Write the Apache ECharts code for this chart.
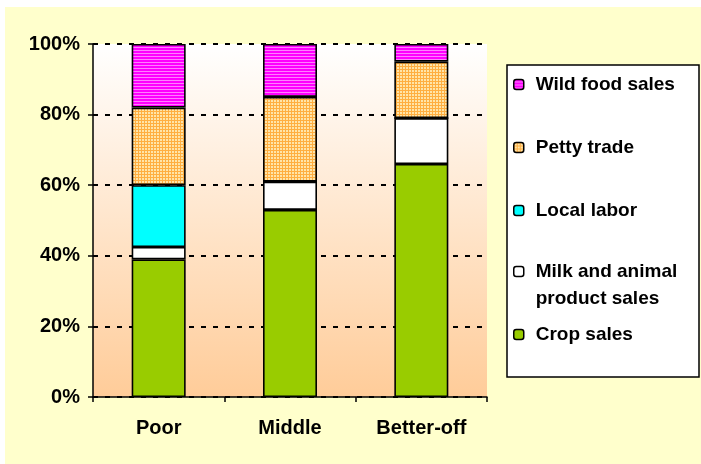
<!DOCTYPE html>
<html>
<head>
<meta charset="utf-8">
<script src="https://cdn.jsdelivr.net/npm/echarts@6/dist/echarts.min.js"></script>
<style>
  html, body { margin: 0; padding: 0; background: #fff; }
  #chart { width: 701px; height: 464px; }
</style>
</head>
<body>
<div id="chart"></div>
<script>
// 类别与各收入来源占比 (%)
const categories = ['Poor', 'Middle', 'Better-off']
const cropSales = [39, 53, 66]
const milkSales = [3.5, 8, 13]
const localLabor = [17.5, 0, 0]
const pettyTrade = [22, 24, 16]
const wildFood = [18, 15, 5]
const yTicks = [0, 20, 40, 60, 80, 100]

// 小图案: 横条纹 / 网格
function makePattern(w, h, bg, fg, draw) {
  const c = document.createElement('canvas')
  c.width = w
  c.height = h
  const ctx = c.getContext('2d')
  ctx.fillStyle = bg
  ctx.fillRect(0, 0, w, h)
  ctx.fillStyle = fg
  draw(ctx)
  return { image: c, repeat: 'repeat' }
}
const wildPattern = makePattern(4, 3, '#FF00FF', '#FF80FF', (ctx) => {
  ctx.fillRect(0, 2, 4, 1)
})
const pettyPattern = makePattern(3, 3, '#FFE4A8', '#FFAE40', (ctx) => {
  ctx.fillRect(0, 0, 3, 1)
  ctx.fillRect(0, 0, 1, 3)
})

const font = '"Liberation Sans", Arial, sans-serif'
const border = { borderColor: '#000', borderWidth: 1.6 }

function barSeries(name, data, color) {
  return {
    name: name,
    type: 'bar',
    stack: 'total',
    barWidth: 54,
    data: data,
    itemStyle: Object.assign({ color: color }, border),
  }
}

// 图例: 每项单独定位
function legendItem(name, top, formatter) {
  return {
    data: [name],
    left: 513,
    top: top,
    padding: 0,
    itemWidth: 10,
    itemHeight: 10,
    itemGap: 0,
    formatter: formatter || '{name}',
    itemStyle: { borderColor: '#000', borderWidth: 1.5 },
    textStyle: {
      fontFamily: font,
      fontWeight: 'bold',
      fontSize: 19,
      color: '#000',
      lineHeight: 27,
      padding: [0, 0, 0, 7],
    },
  }
}

const chart = echarts.init(document.getElementById('chart'))
chart.setOption({
  backgroundColor: '#fff',
  animation: false,
  graphic: [
    { type: 'rect', z: -10, shape: { x: 5, y: 7, width: 696, height: 457 }, style: { fill: '#FFFFCC' } },
    { type: 'rect', z: -5, shape: { x: 507, y: 65, width: 192, height: 312 }, style: { fill: '#fff', stroke: '#000', lineWidth: 1.5 } },
  ],
  grid: {
    left: 93,
    right: 214,
    top: 44,
    bottom: 67,
    show: true,
    borderWidth: 0,
    backgroundColor: new echarts.graphic.LinearGradient(0, 0, 0, 1, [
      { offset: 0, color: '#FFFFFF' },
      { offset: 1, color: '#FFCC99' },
    ]),
  },
  legend: [
    legendItem('Wild food sales', 71),
    legendItem('Petty trade', 134),
    legendItem('Local labor', 197),
    legendItem('Milk and animal\nproduct sales', 231, (name) => '\n' + name),
    legendItem('Crop sales', 321),
  ],
  xAxis: {
    type: 'category',
    data: categories,
    axisLine: { lineStyle: { color: '#000', width: 1.5 } },
    axisTick: { show: true, length: 5, lineStyle: { color: '#000', width: 1.5 } },
    axisLabel: { margin: 21, color: '#000', fontFamily: font, fontWeight: 'bold', fontSize: 20 },
  },
  yAxis: {
    type: 'value',
    min: yTicks[0],
    max: yTicks[yTicks.length - 1],
    interval: 20,
    axisLine: { show: true, lineStyle: { color: '#000', width: 1.5 } },
    axisTick: { show: true, length: 5, lineStyle: { color: '#000', width: 1.5 } },
    axisLabel: { margin: 13, formatter: '{value}%', color: '#000', fontFamily: font, fontWeight: 'bold', fontSize: 20 },
    splitLine: { lineStyle: { color: '#000', width: 2, type: [5, 7] } },
  },
  series: [
    barSeries('Crop sales', cropSales, '#99CC00'),
    barSeries('Milk and animal\nproduct sales', milkSales, '#FFFFFF'),
    barSeries('Local labor', localLabor, '#00FFFF'),
    barSeries('Petty trade', pettyTrade, pettyPattern),
    barSeries('Wild food sales', wildFood, wildPattern),
  ],
})
</script>
</body>
</html>
